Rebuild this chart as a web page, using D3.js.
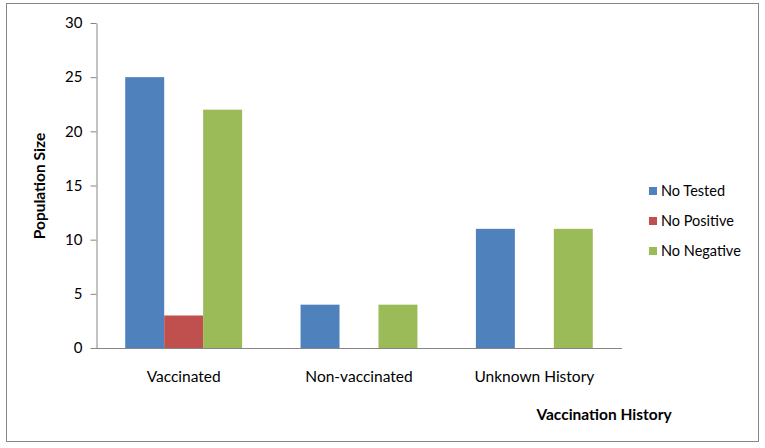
<!DOCTYPE html>
<html><head><meta charset="utf-8">
<script src="https://cdn.jsdelivr.net/npm/d3@7"></script>
<style>body{margin:0;background:#fff;} text{font-family:Lato,"Open Sans",sans-serif;}</style>
</head><body>
<svg id="c" width="765" height="448"></svg>
<script>
const categories = ["Vaccinated", "Non-vaccinated", "Unknown History"];
const seriesNames = ["No Tested", "No Positive", "No Negative"];
const noTested = [25, 4, 11];
const noPositive = [3, 0, 0];
const noNegative = [22, 4, 11];
const yTicks = [0, 5, 10, 15, 20, 25, 30];
const colors = ["#4f81bd", "#c0504d", "#9bbb59"];

const series = [noTested, noPositive, noNegative];
const svg = d3.select("#c");
svg.append("rect").attr("x", 6.5).attr("y", 3.5).attr("width", 752).attr("height", 438)
  .attr("fill", "#fff").attr("stroke", "#868686").attr("stroke-width", 1);

const L = 96, R = 622, T = 23, B = 348;
const x = d3.scaleBand().domain(categories).range([L, R]).paddingInner(1/3).paddingOuter(1/6);
const xi = d3.scaleBand().domain(d3.range(3)).range([0, x.bandwidth()]);
const y = d3.scaleLinear().domain([0, 30]).range([B, T]);

// bars
categories.forEach((c, ci) => {
  series.forEach((s, si) => {
    const v = s[ci];
    svg.append("rect")
      .attr("x", x(c) + xi(si)).attr("y", y(v))
      .attr("width", xi.bandwidth()).attr("height", B - y(v))
      .attr("fill", colors[si]);
  });
});

// y axis
const ya = svg.append("g").attr("transform", `translate(${L+0.5},0)`)
  .call(d3.axisLeft(y).tickValues(yTicks).tickSize(6).tickSizeOuter(0).tickPadding(8));
ya.select(".domain").attr("stroke", "#868686");
ya.selectAll(".tick line").attr("stroke", "#868686");
ya.selectAll("text").attr("font-size", 15).attr("fill", "#000").style("font-family", "Lato,'Open Sans',sans-serif");

// x axis
const xa = svg.append("g").attr("transform", `translate(0,${B+0.5})`)
  .call(d3.axisBottom(x).tickSize(0).tickSizeOuter(0).tickPadding(22));
xa.select(".domain").attr("stroke", "#868686").attr("d", `M${L},0H${R}`);
xa.selectAll("text").attr("font-size", 15.5).attr("fill", "#000").style("font-family", "Lato,'Open Sans',sans-serif");

// axis titles
svg.append("text").attr("x", 604).attr("y", 420).attr("text-anchor", "middle")
  .attr("font-size", 15.5).attr("font-weight", "bold").text("Vaccination History");
svg.append("text").attr("transform", "translate(45,186) rotate(-90)").attr("text-anchor", "middle")
  .attr("font-size", 15.5).attr("font-weight", "bold").text("Population Size");

// legend
seriesNames.forEach((n, i) => {
  const ly = 191 + i * 30;
  svg.append("rect").attr("x", 649).attr("y", ly - 4).attr("width", 8).attr("height", 8).attr("fill", colors[i]);
  svg.append("text").attr("x", 661).attr("y", ly + 5).attr("font-size", 14.5).text(n);
});
</script>
</body></html>
